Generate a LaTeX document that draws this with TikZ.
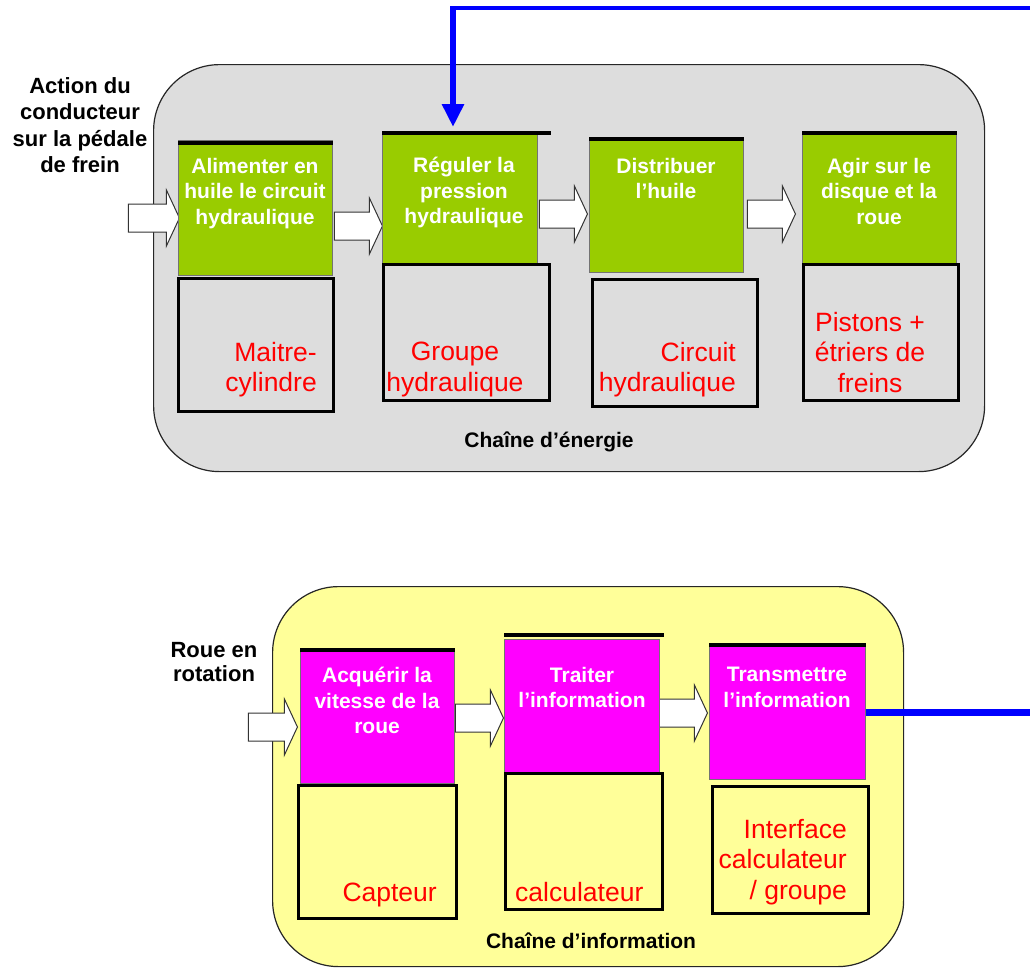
\documentclass[tikz,border=0pt]{standalone}
\usepackage{fontspec}
\setmainfont{Liberation Sans}
\usetikzlibrary{shapes.arrows,arrows.meta,positioning}

\definecolor{energiegris}{RGB}{221,221,221}
\definecolor{infojaune}{RGB}{255,255,153}
\definecolor{vertfct}{RGB}{153,204,0}
\definecolor{magentafct}{RGB}{255,0,255}

\tikzset{
  chainbox/.style={draw=black!85, line width=1.2pt, rounded corners=66pt, inner sep=0pt, anchor=north west},
  fctbox/.style={draw=black!55, line width=0.8pt, inner sep=0pt, anchor=north west},
  solbox/.style={draw=black, line width=3pt, inner sep=0pt, anchor=north west},
  topline/.style={line width=3.5pt, black},
  fcttxt/.style={white, font=\fontsize{21}{25.5}\selectfont\bfseries, align=center, anchor=north, inner sep=0pt},
  soltxt/.style={red, font=\fontsize{26.5}{30.5}\selectfont, inner sep=0pt},
  lbltxt/.style={font=\fontsize{22}{26.5}\selectfont\bfseries, align=center, anchor=north, inner sep=0pt},
  chaintxt/.style={font=\fontsize{21}{25}\selectfont\bfseries, anchor=base, inner sep=0pt},
  blockarr/.style={single arrow, draw=black!80, fill=white, line width=1pt, inner sep=0pt,
    minimum height=48pt, text height=27pt, text depth=0pt, single arrow head extend=14pt,
    single arrow tip angle=130, anchor=tip},
  retour/.style={blue, line cap=butt}
}

\begin{document}
\begin{tikzpicture}[x=1pt, y=-1pt]
  \useasboundingbox (0,0) rectangle (1030,967);

  % Chaines (fonds arrondis)
  \node[chainbox, fill=energiegris, minimum width=831pt, minimum height=407pt] (ce) at (153,64) {};
  \node[chainbox, fill=infojaune, minimum width=631pt, minimum height=380pt] (ci) at (272,586) {};

  % Fleches de flux
  \node[blockarr, minimum height=51pt] (in1) at (180,218) {};
  \node[blockarr] (a12) at (383,226) {};
  \node[blockarr] (a23) at (588,214) {};
  \node[blockarr] (a34) at (796,214) {};
  \node[blockarr, minimum height=49pt] (in2) at (298,727) {};
  \node[blockarr] (b12) at (504,718) {};
  \node[blockarr] (b23) at (708,713) {};

  % Fonctions de la chaine d'energie
  \node[fctbox, fill=vertfct, minimum width=154pt, minimum height=135pt] (g1) at (178,140) {};
  \node[fctbox, fill=vertfct, minimum width=155pt, minimum height=132pt] (g2) at (382,133) {};
  \node[fctbox, fill=vertfct, minimum width=154pt, minimum height=135pt] (g3) at (589,137) {};
  \node[fctbox, fill=vertfct, minimum width=154pt, minimum height=130pt] (g4) at (802,133) {};
  % Solutions
  \node[solbox, minimum width=155pt, minimum height=133pt] (s1) at (177,277) {};
  \node[solbox, minimum width=166pt, minimum height=136pt] (s2) at (382,263) {};
  \node[solbox, minimum width=165pt, minimum height=127pt] (s3) at (591,278) {};
  \node[solbox, minimum width=155pt, minimum height=136pt] (s4) at (802,263) {};

  % Fonctions de la chaine d'information
  \node[fctbox, fill=magentafct, minimum width=154pt, minimum height=134pt] (m1) at (300,649) {};
  \node[fctbox, fill=magentafct, minimum width=155pt, minimum height=133pt] (m2) at (504,639) {};
  \node[fctbox, fill=magentafct, minimum width=156pt, minimum height=134pt] (m3) at (709,645) {};
  % Solutions
  \node[solbox, minimum width=158pt, minimum height=133pt] (b1) at (297,784) {};
  \node[solbox, minimum width=157pt, minimum height=136pt] (b2) at (504,772) {};
  \node[solbox, minimum width=156pt, minimum height=127pt] (b3) at (711,785) {};

  % Traits noirs en haut des fonctions
  \draw[topline] ([yshift=-3pt]g1.north west) -- ([yshift=-3pt]g1.north east);
  \draw[topline] (g2.north west) -- (g2.north west -| s2.east);
  \draw[topline] ([yshift=-2pt]g3.north west) -- ([yshift=-2pt]g3.north east);
  \draw[topline] (g4.north west) -- (g4.north east);
  \draw[topline] ([yshift=-1pt]m1.north west) -- ([yshift=-1pt]m1.north east);
  \draw[topline] ([yshift=4pt]m2.north west) -- ([yshift=4pt]m2.north east -| b2.east);
  \draw[topline] (m3.north west) -- (m3.north east);

  % Textes des fonctions
  \node[fcttxt] (g1t) at (255,158) {Alimenter en\\huile le circuit\\hydraulique};
  \node[fcttxt] (g2t) at (464,157) {Réguler la\\pression\\hydraulique};
  \node[fcttxt] (g3t) at (666,158) {Distribuer\\l’huile};
  \node[fcttxt] (g4t) at (879,158) {Agir sur le\\disque et la\\roue};
  \node[fcttxt] (m1t) at (377,667) {Acquérir la\\vitesse de la\\roue};
  \node[fcttxt] (m2t) at (582,667) {Traiter\\l’information};
  \node[fcttxt] (m3t) at (787,667) {Transmettre\\l’information};

  % Textes des solutions
  \node[soltxt, align=right, anchor=north east] (s1t) at (317,342) {Maitre-\\cylindre};
  \node[soltxt, align=center, anchor=north] (s2t) at (455,342) {Groupe\\hydraulique};
  \node[soltxt, align=right, anchor=north east] (s3t) at (736,342) {Circuit\\hydraulique};
  \node[soltxt, align=center, anchor=north] (s4t) at (870,312) {Pistons +\\étriers de\\freins};
  \node[soltxt, anchor=base east] (b1t) at (437,901) {Capteur};
  \node[soltxt, anchor=base west] (b2t) at (515,901) {calculateur};
  \node[soltxt, align=right, anchor=north east] (b3t) at (847,819) {Interface\\calculateur\\/ groupe};

  % Entrees et titres
  \node[lbltxt] (action) at (80,77) {Action du\\conducteur\\sur la pédale\\de frein};
  \node[lbltxt, font=\fontsize{22}{24}\selectfont\bfseries] (roue) at (214,642) {Roue en\\rotation};
  \node[chaintxt] (tce) at (549,447) {Chaîne d’énergie};
  \node[chaintxt] (tci) at (591,948) {Chaîne d’information};

  % Retour d'information vers le groupe hydraulique
  \draw[retour, line width=7pt] (m3.east) -- ++(185,0) coordinate (fbcoin);
  \draw[retour, line width=4pt] (fbcoin) |- (453,8) coordinate (fbhaut);
  \draw[retour, line width=6pt, shorten >=6pt, -{Triangle[length=23pt,width=21pt]}]
    ([yshift=2pt]fbhaut) -- (fbhaut |- g2.north);
\end{tikzpicture}
\end{document}
